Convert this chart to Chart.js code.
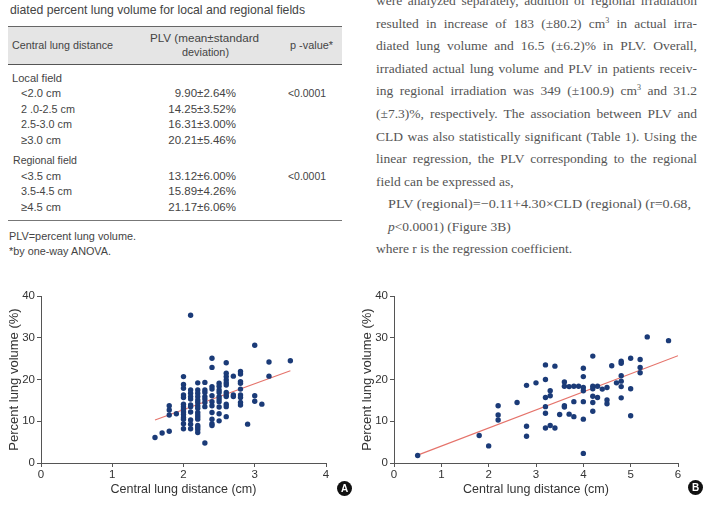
<!DOCTYPE html>
<html>
<head>
<meta charset="utf-8">
<script src="https://cdn.jsdelivr.net/npm/chart.js@4.4.1/dist/chart.umd.min.js"></script>
<style>
  html, body { margin: 0; padding: 0; background: #fff; }
  body { position: relative; width: 715px; height: 505px; overflow: hidden; }
  .s { position: absolute; white-space: nowrap; font-family: 'Liberation Sans', Arial, sans-serif; font-size: 11.5px; line-height: 14px; color: #444; }
  .r { position: absolute; white-space: nowrap; font-family: 'Liberation Serif', 'Times New Roman', serif; font-size: 13.5px; line-height: 16px; color: #555; }
  .r sup { font-size: 8px; line-height: 0; vertical-align: 5px; }
  .hline { position: absolute; left: 8px; width: 334px; }
  .badge { position: absolute; width: 15px; height: 15px; border-radius: 50%; background: #111; color: #fff;
           font: bold 10px 'Liberation Sans', Arial, sans-serif; line-height: 15px; text-align: center; }
  canvas { position: absolute; }
</style>
</head>
<body>

<!-- table, left column -->
<div class="s" style="left:10px;top:2px;font-size:13px;line-height:16px;" data-w="295">diated percent lung volume for local and regional fields</div>

<div class="hline" style="top:27px;height:38px;background:#e5e5e5;"></div>
<div class="hline" style="top:26px;height:1px;background:#666;"></div>
<div class="hline" style="top:64px;height:1px;background:#555;"></div>

<div class="s" style="left:12px;top:38px;" data-w="101">Central lung distance</div>
<div class="s" style="left:150px;top:31px;" data-w="109">PLV (mean±standard</div>
<div class="s" style="left:182px;top:45px;" data-w="47">deviation)</div>
<div class="s" style="left:290px;top:38px;" data-w="43">p -value*</div>

<div class="s" style="left:12px;top:71px;" data-w="50">Local field</div>
<div class="s" style="left:21px;top:86px;" data-w="40">&lt;2.0 cm</div>
<div class="s" style="left:21px;top:102px;" data-w="54">2 .0-2.5 cm</div>
<div class="s" style="left:21px;top:117px;" data-w="51">2.5-3.0 cm</div>
<div class="s" style="left:21px;top:133px;" data-w="40">≥3.0 cm</div>
<div class="s" style="left:13px;top:153px;" data-w="64">Regional field</div>
<div class="s" style="left:21px;top:169px;" data-w="40">&lt;3.5 cm</div>
<div class="s" style="left:21px;top:184px;" data-w="51">3.5-4.5 cm</div>
<div class="s" style="left:21px;top:200px;" data-w="40">≥4.5 cm</div>

<div class="s" style="right:479px;top:86px;">9.90±2.64%</div>
<div class="s" style="right:479px;top:102px;">14.25±3.52%</div>
<div class="s" style="right:479px;top:117px;">16.31±3.00%</div>
<div class="s" style="right:479px;top:133px;">20.21±5.46%</div>
<div class="s" style="right:479px;top:169px;">13.12±6.00%</div>
<div class="s" style="right:479px;top:184px;">15.89±4.26%</div>
<div class="s" style="right:479px;top:200px;">21.17±6.06%</div>

<div class="s" style="left:288px;top:86px;" data-w="38">&lt;0.0001</div>
<div class="s" style="left:288px;top:169px;" data-w="38">&lt;0.0001</div>

<div class="hline" style="top:220px;height:1px;background:#777;"></div>
<div class="s" style="left:9px;top:229px;" data-w="127">PLV=percent lung volume.</div>
<div class="s" style="left:9px;top:244px;" data-w="102">*by one-way ANOVA.</div>

<!-- text, right column -->
<div class="r" style="left:376px;top:-7px;" data-w="321" data-j="1">were analyzed separately, addition of regional irradiation</div>
<div class="r" style="left:376px;top:16px;" data-w="321" data-j="1">resulted in increase of 183 (±80.2) cm<sup>3</sup> in actual irra-</div>
<div class="r" style="left:376px;top:38px;" data-w="321" data-j="1">diated lung volume and 16.5 (±6.2)% in PLV. Overall,</div>
<div class="r" style="left:376px;top:61px;" data-w="321" data-j="1">irradiated actual lung volume and PLV in patients receiv-</div>
<div class="r" style="left:376px;top:83px;" data-w="321" data-j="1">ing regional irradiation was 349 (±100.9) cm<sup>3</sup> and 31.2</div>
<div class="r" style="left:376px;top:106px;" data-w="321" data-j="1">(±7.3)%, respectively. The association between PLV and</div>
<div class="r" style="left:376px;top:129px;" data-w="321" data-j="1">CLD was also statistically significant (Table 1). Using the</div>
<div class="r" style="left:376px;top:151px;" data-w="321" data-j="1">linear regression, the PLV corresponding to the regional</div>
<div class="r" style="left:376px;top:174px;">field can be expressed as,</div>
<div class="r" style="left:388px;top:196px;" data-w="303">PLV (regional)=−0.11+4.30×CLD (regional) (r=0.68,</div>
<div class="r" style="left:388px;top:219px;"><i>p</i>&lt;0.0001) (Figure 3B)</div>
<div class="r" style="left:376px;top:241px;">where r is the regression coefficient.</div>

<canvas id="chartA" width="360" height="220" style="left:0px;top:285px;"></canvas>
<canvas id="chartB" width="360" height="220" style="left:355px;top:285px;"></canvas>
<div class="badge" style="left:337px;top:481px;">A</div>
<div class="badge" style="left:688px;top:480px;">B</div>

<script>
// local field: central lung distance (cm) and percent lung volume (%)
const localCLD = [1.6, 1.7, 1.8, 1.8, 1.8, 1.8, 1.9,
  2.0, 2.0, 2.0, 2.0, 2.0, 2.0, 2.0, 2.0, 2.0, 2.0, 2.0, 2.0, 2.0, 2.0,
  2.1, 2.1, 2.1, 2.1, 2.1, 2.1, 2.1, 2.1, 2.1, 2.1, 2.1,
  2.2, 2.2, 2.2, 2.2, 2.2, 2.2, 2.2, 2.2, 2.2, 2.2, 2.2, 2.2, 2.2, 2.2, 2.2, 2.2,
  2.3, 2.3, 2.3, 2.3, 2.3, 2.3, 2.3, 2.3,
  2.4, 2.4, 2.4, 2.4, 2.4, 2.4, 2.4, 2.4, 2.4, 2.4, 2.4,
  2.5, 2.5, 2.5, 2.5, 2.5, 2.5, 2.5, 2.5, 2.5, 2.5,
  2.6, 2.6, 2.6, 2.6, 2.6, 2.6, 2.6, 2.6, 2.6, 2.6, 2.6, 2.6,
  2.7, 2.7, 2.7,
  2.8, 2.8, 2.8, 2.8, 2.8, 2.8, 2.8, 2.8, 2.8,
  2.9, 3.0, 3.0, 3.0, 3.1, 3.2, 3.2, 3.5];
const localPLV = [6.1, 7.2, 7.6, 13.7, 12.7, 11.5, 11.8,
  20.7, 18.8, 17.9, 16.3, 15.7, 14.1, 13.5, 12.9, 12.2, 11.6, 10.9, 10.5, 9.4, 8.2,
  35.4, 17.5, 16.7, 15.9, 15.3, 13.9, 13.5, 12.2, 10.3, 9.3, 8.2,
  19.2, 17.5, 16.7, 15.9, 15.1, 14.5, 13.7, 13.1, 12.1, 11.5, 11.0, 10.5, 9.0, 8.5, 8.0, 7.3,
  19.3, 17.5, 16.9, 15.9, 15.3, 14.5, 13.5, 4.8,
  25.1, 22.9, 18.3, 17.7, 16.1, 14.7, 13.7, 12.1, 10.5, 9.4, 9.0,
  19.1, 18.4, 17.5, 16.9, 15.9, 15.3, 14.7, 13.4, 11.8, 10.1,
  24.0, 21.5, 20.7, 19.9, 19.2, 18.7, 16.9, 16.3, 15.9, 14.1, 13.5, 11.1,
  20.8, 16.3, 15.9,
  21.9, 21.3, 19.5, 19.1, 17.7, 16.3, 15.7, 14.5, 13.9,
  9.3, 28.2, 16.1, 14.8, 14.1, 24.2, 20.8, 24.5];
const localFitX = [1.6, 3.5];
const localFitY = [10.3, 22.1];

// regional field
const regionalCLD = [0.5, 1.8, 2.0, 2.2, 2.2, 2.2, 2.6, 2.8, 2.8, 2.8, 3.0,
  3.2, 3.2, 3.2, 3.2, 3.2, 3.2, 3.3, 3.3, 3.3, 3.4, 3.4, 3.5,
  3.6, 3.6, 3.6, 3.6, 3.7, 3.7, 3.8, 3.8, 3.8, 3.9,
  4.0, 4.0, 4.0, 4.0, 4.0, 4.0, 4.0,
  4.2, 4.2, 4.2, 4.2, 4.2, 4.2, 4.3, 4.3, 4.4, 4.5, 4.5, 4.5, 4.6, 4.7,
  4.8, 4.8, 4.8, 4.8, 4.8, 4.8, 5.0, 5.0, 5.0, 5.2, 5.2, 5.2, 5.35, 5.8];
const regionalPLV = [1.8, 6.6, 4.1, 13.7, 11.5, 10.3, 14.5, 18.6, 8.8, 6.4, 19.2,
  23.5, 20.0, 15.7, 13.5, 11.9, 8.4, 17.3, 16.1, 9.0, 23.2, 8.4, 11.6,
  19.4, 18.4, 13.7, 13.4, 18.3, 11.7, 18.4, 14.7, 11.1, 18.4,
  22.7, 20.7, 18.1, 17.3, 14.7, 10.5, 2.3,
  25.6, 18.4, 17.8, 16.0, 14.5, 12.4, 18.4, 15.7, 17.7, 18.1, 15.1, 14.2, 23.3, 19.2,
  24.4, 23.9, 20.9, 19.6, 18.3, 15.6, 25.1, 17.8, 11.3, 24.8, 22.9, 21.6, 30.2, 29.3];
const regionalFitX = [0.5, 6.0];
const regionalFitY = [1.9, 25.7];

const xTitle = 'Central lung distance (cm)';
const yTitle = 'Percent lung volume (%)';
const yTicks = [0, 10, 20, 30, 40];

function pairs(xs, ys) {
  return xs.map((x, i) => ({x: x, y: ys[i]}));
}

function makeChart(id, xs, ys, fx, fy, xMax, yWidth, rightPad, yTitlePad) {
  const font = "'Liberation Sans', Arial, sans-serif";
  return new Chart(document.getElementById(id), {
    type: 'scatter',
    data: {
      datasets: [
        {
          data: pairs(xs, ys),
          backgroundColor: '#1b3b78',
          borderWidth: 0,
          pointRadius: 2.7,
          order: 1
        },
        {
          type: 'line',
          data: pairs(fx, fy),
          borderColor: '#e5736b',
          borderWidth: 1.2,
          pointRadius: 0,
          fill: false,
          order: 2
        }
      ]
    },
    options: {
      responsive: false,
      animation: false,
      layout: { padding: { left: 0, top: 11, right: rightPad, bottom: 0 }, autoPadding: false },
      plugins: { legend: { display: false }, tooltip: { enabled: false } },
      scales: {
        x: {
          type: 'linear', min: 0, max: xMax,
          afterFit: s => { s.height = 42; },
          ticks: { stepSize: 1, color: '#333', font: { family: font, size: 11.5 }, padding: 1 },
          grid: { drawOnChartArea: false, tickLength: 4, color: '#555' },
          border: { color: '#555', width: 1 },
          title: { display: true, text: xTitle, color: '#333', font: { family: font, size: 12.5 }, padding: { top: 0, bottom: 7.5 } }
        },
        y: {
          type: 'linear', min: 0, max: 40,
          afterFit: s => { s.width = yWidth; },
          afterBuildTicks: s => { s.ticks = yTicks.map(v => ({value: v})); },
          ticks: { color: '#333', font: { family: font, size: 11.5 }, padding: 2 },
          grid: { drawOnChartArea: false, tickLength: 4, color: '#555' },
          border: { color: '#555', width: 1 },
          title: { display: true, text: yTitle, color: '#333', font: { family: font, size: 13 }, padding: { top: yTitlePad, bottom: 0 } }
        }
      }
    }
  });
}

makeChart('chartA', localCLD, localPLV, localFitX, localFitY, 4, 41, 34, 7);
makeChart('chartB', regionalCLD, regionalPLV, regionalFitX, regionalFitY, 6, 39, 37, 4.8);

// squeeze or justify text lines to the widths seen in the page
document.querySelectorAll('[data-w]').forEach(el => {
  const w = +el.dataset.w;
  const nat = el.getBoundingClientRect().width;
  const spaces = (el.textContent.match(/ /g) || []).length;
  if (el.dataset.j && nat < w && spaces > 0) {
    el.style.wordSpacing = ((w - nat) / spaces) + 'px';
  } else {
    el.style.transformOrigin = 'left center';
    el.style.transform = 'scaleX(' + (w / nat) + ')';
  }
});
</script>
</body>
</html>
